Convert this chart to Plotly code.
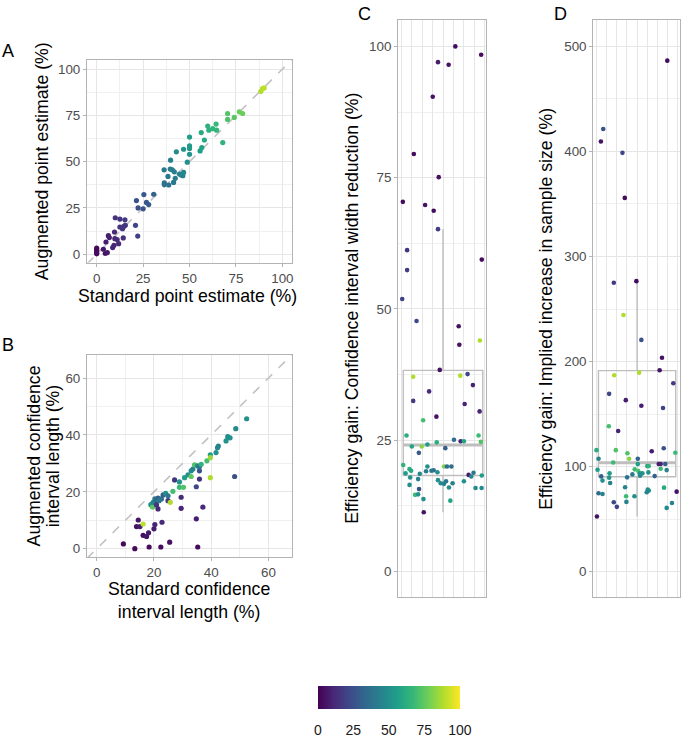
import plotly.graph_objects as go

W, H = 685, 739

# ---------------- data ----------------
# Panel A: standard vs augmented point estimate (%)
a_std = [0, 0, 0, 0, 0, 3.6, 5, 4.6, 5.7, 6.3, 6.8, 8.6, 9.3, 9.8, 9.6, 10, 12.5, 11, 11.8, 12.5,
         13.9, 14.3, 15.2, 15.4, 14.6, 20.9, 21.4, 22.3, 22.1, 25.4, 25, 26.8, 28, 30.7, 36.3, 36.4,
         36.4, 38.4, 38.8, 39.8, 39.6, 40.7, 41.8, 41.4, 42.3, 42.9, 44.6, 45.5, 46.4, 46.8, 46.8,
         48.8, 50, 50, 50, 50, 56.3, 55.7, 56.6, 58, 59.8, 60.4, 62.5, 64.3, 64.6, 67.9, 70.5, 70.5,
         74.1, 76.8, 78.6, 88.4, 89.3, 90.2]
a_aug = [0.2, 0.8, 1.6, 2.4, 3.3, 2.7, 6.6, 0.4, 0.9, 10, 9, 3.6, 4.8, 8.4, 12, 19.7, 19, 7.9, 5.7, 14.7,
         13.8, 8.8, 18.6, 15.6, 15, 15.6, 29, 25, 9.8, 32.2, 24.5, 28, 26.8, 32.4, 45.6, 38.5,
         37.6, 42, 37.4, 50.8, 46, 45.6, 44.5, 38.8, 41, 55.3, 43.3, 42.8, 42.4, 44.2, 56.7,
         49.7, 63.3, 58.5, 57.1, 54, 65.7, 55.8, 57.6, 61.7, 69.2, 67, 67.8, 70.3, 67, 60.3, 76, 72.8,
         73.9, 76.9, 76, 88, 89.4, 89.8]
a_col = [3, 2, 4, 3, 2, 6, 8, 5, 6, 8, 9, 10, 10, 11, 12, 14, 15, 12, 12, 15,
         15, 14, 17, 17, 16, 22, 25, 24, 20, 28, 26, 28, 28, 32, 40, 37,
         37, 40, 38, 44, 42, 43, 43, 40, 42, 48, 44, 45, 45, 46, 52,
         50, 56, 54, 53, 52, 61, 56, 57, 60, 64, 64, 65, 67, 66, 64, 73, 72,
         74, 77, 77, 88, 89, 90]

# Panel B: standard vs augmented confidence interval length (%)
b_std = [9.3, 13.3, 13.9, 14.5, 15.1, 16.2, 16.2, 17.4, 18.1, 18.3, 20, 20.3, 22.8, 22.4, 25.5, 35.3,
         29.5, 29.5, 27.2, 34.8, 37.1, 34.8, 35.9, 35.9, 39.7, 48.2,
         18.9, 19.5, 19.7, 20.3, 20.9, 21.4, 21.8, 20.9, 21.4, 22.6, 23.2, 24.1, 24.9, 24.9, 25.7,
         26.6, 28.9, 28.9, 30.3, 30.7, 31.9, 33, 33, 33.6, 34.2, 35.3, 35.9, 36.5, 38.5, 39.7, 39.7,
         41.7, 42.2, 42.5, 45.2, 45.8, 46.6, 48.6, 52.4]
b_aug = [1.7, 0, 7.8, 10.1, 7.8, 8.7, 4.7, 4.3, 5.6, 0.6, 7, 8.5, 9.3, 0.6, 2.3, 0.6,
         18.1, 14.2, 24.2, 10.5, 14.6, 21.8, 24.5, 27.4, 25, 25.4,
         15.5, 14.6, 16.3, 17.5, 16.9, 17.8, 16.9, 15.4, 14, 17.5, 18.9, 19.5, 18.6, 16.9, 16.3,
         20.2, 23.5, 21.6, 21.6, 25, 26, 25.4, 27.4, 28, 29.5, 29.1, 28.8, 29.7, 30.9, 33, 32,
         33.8, 35.5, 36.1, 37.9, 39.4, 39, 42.2, 45.7]
b_col = [3, 2, 5, 6, 8, 90, 4, 6, 7, 3, 8, 10, 12, 3, 5, 3,
         12, 10, 15, 8, 12, 22, 14, 25, 88, 25,
         50, 75, 45, 40, 35, 30, 42, 15, 12, 38, 30, 50, 40, 15, 88,
         70, 52, 68, 72, 55, 50, 75, 48, 45, 72, 45, 40, 65, 70, 55, 85,
         50, 48, 45, 52, 48, 50, 48, 50]

# Panel C: efficiency gain, CI width reduction (%) (jittered)
c_jit = [1.18, 3.65, -0.48, 0.54, -0.98, -2.79, -0.41, -3.84, -1.71, -0.89, -0.48, -3.43, -3.43, 3.71, -3.9,
         -2.53, 1.5, 1.56, 3.53, -0.31, -2.85, 1.65, 2.35, 2.86, -1.33, -2.85, 2.07, 3.5, -0.63, -1.9,
         -3.49, 3.4, 1.05, 1.69, 2.0, 3.62, -2.98, -2.03, -1.49, -0.6, 0.22, -2.31, -3.8, -1.49, 0.1,
         0.38, 0.8, -3.58, -3.2, -3.05, -2.22, -1.62, -1.1, -0.89, -0.53, -3.14, -2.38, -0.48, -0.22,
         0.1, 0.29, 0.57, 0.92, 2.0, 2.45, 2.7, 2.92, 3.71, -3.2, -2.29, -2.67, -2.38, -1.87, 0.7,
         3.11, 3.69, -1.84]
c_gain = [100.0, 98.4, 97.0, 96.5, 90.4, 79.5, 75.1, 70.4, 69.8, 68.7, 65.2, 61.2, 57.4, 59.4, 51.9,
          47.7, 46.7, 43.2, 44.0, 38.4, 37.1, 37.3, 37.6, 35.5, 34.3, 32.5, 31.9, 30.5, 29.5, 28.8,
          25.9, 25.9, 25.1, 24.8, 24.8, 24.7, 23.8, 23.8, 24.2, 24.6, 23.5, 22.6, 20.3, 20.0, 20.0,
          20.0, 20.0, 18.7, 19.5, 19.2, 18.6, 19.1, 19.2, 19.3, 18.9, 17.9, 17.6, 17.4, 16.8,
          16.7, 17.2, 16.0, 16.8, 17.2, 18.4, 18.1, 18.8, 18.3, 16.5, 15.7, 14.6, 14.7, 13.8, 13.5,
          15.9, 15.9, 11.3]
c_col = [3, 3, 8, 5, 5, 3, 5, 3, 5, 3, 18, 15, 18, 3, 20,
         22, 5, 5, 88, 5, 88, 88, 22, 10, 12, 18, 10, 10, 5, 70,
         62, 68, 35, 10, 58, 72, 58, 82, 55, 62, 30, 28, 65, 50, 80,
         35, 35, 55, 62, 60, 48, 42, 40, 38, 50, 50, 45, 50, 48,
         45, 40, 48, 45, 50, 8, 45, 40, 55, 50, 25, 68, 52, 50, 58,
         48, 48, 5]
c_box = dict(q1=18.3, median=24.1, q3=38.3, lowerfence=11.3, upperfence=65.2)

# Panel D: efficiency gain, implied increase in sample size (%) (jittered)
d_jit = [2.97, -3.33, -3.56, -1.44, -1.21, -2.29, -0.07, -1.34, 0.42, 2.45, 2.22, 0.2, -2.25, 3.56, -2.75,
         -1.11, 0.42, 2.55, -2.78, -1.86, -3.99, -2.09, 1.44, 3.76, 2.62, -0.95, -0.78, -3.79, 0.07,
         -2.35, 0.07, 2.13, 2.32, 2.77, 1.01, 1.15, 2.32, -3.89, 2.91, -0.23, 0.1, 0.26, 0.52, -0.46,
         1.11, -2.71, -3.53, -3.4, -2.75, -0.98, 1.73, 0.29, -2.65, -1.18, 2.65, 1.05, 1.15, 0.95,
         -3.79, -3.4, 3.89, -1.08, -0.26, -2.29, -1.05, -1.99, 3.43, 2.91, -3.95]
d_gain = [486.5, 421.4, 409.5, 398.7, 355.8, 275.0, 276.5, 244.3, 220.6, 203.6, 191.7, 189.4, 186.9, 179.3, 169.2,
          163.2, 157.9, 155.7, 138.3, 133.9, 115.6, 115.6, 114.6, 113.1, 117.4, 112.7, 107.4, 107.4, 107.4,
          103.9, 102.3, 102.4, 102.4, 102.4, 100.4, 100.4, 97.9, 97.0, 96.6, 97.3, 96.0, 93.5, 93.5, 92.5,
          94.4, 93.5, 90.6, 86.6, 89.4, 89.7, 90.9, 91.3, 84.3, 80.2, 79.9, 78.0, 77.1, 75.5,
          74.5, 73.9, 76.1, 71.7, 71.7, 66.0, 66.3, 61.6, 65.3, 60.6, 52.4]
d_col = [3, 25, 5, 22, 3, 18, 3, 88, 25, 5, 5, 88, 88, 18, 22,
         8, 8, 20, 70, 10, 62, 72, 8, 68, 25, 72, 82, 45, 32,
         68, 55, 8, 10, 28, 55, 65, 68, 55, 45, 68, 72, 52, 50, 42,
         50, 55, 30, 50, 52, 38, 30, 48, 45, 45, 60, 48, 50, 45,
         35, 45, 5, 68, 50, 22, 45, 20, 45, 48, 5]
d_box = dict(q1=90.3, median=103.6, q3=191.3, lowerfence=52.5, upperfence=276.5)

cbar_ticks = [0, 25, 50, 75, 100]

# ---------------- layout helpers ----------------
def fx(px):
    return px / W

def fy(py):
    return 1 - py / H

FONT = "Liberation Sans, Arial, Helvetica, sans-serif"
GRID = "#E6E6E6"
MINOR = "#F0F0F0"
BORDER = "#B3B3B3"
TICKC = "#4D4D4D"
BOXC = "#BEBEBE"

fig = go.Figure()

common_marker = dict(colorscale="Viridis", cmin=0, cmax=100)

# A
rngA = [-5.2, 105.1]
fig.add_trace(go.Scatter(x=rngA, y=rngA, mode="lines", line=dict(color="#C2C2C2", width=1.6, dash="dash"),
                         xaxis="x", yaxis="y", hoverinfo="skip", showlegend=False))
fig.add_trace(go.Scatter(x=a_std, y=a_aug, mode="markers", xaxis="x", yaxis="y", showlegend=False,
                         marker=dict(color=a_col, size=5.2, **common_marker, showscale=True,
                                     colorbar=dict(orientation="h", x=fx(390), xanchor="center",
                                                   y=fy(690), yanchor="top", lenmode="pixels", len=142,
                                                   thickness=23, xpad=0, ypad=0, outlinewidth=0,
                                                   tickvals=cbar_ticks, ticks="outside", ticklen=10,
                                                   tickcolor="white", tickwidth=1,
                                                   tickfont=dict(size=14, color="#1A1A1A", family=FONT)))))
# B
rngB = [-3.4, 68.2]
fig.add_trace(go.Scatter(x=rngB, y=rngB, mode="lines", line=dict(color="#C2C2C2", width=1.6, dash="dash"),
                         xaxis="x2", yaxis="y2", hoverinfo="skip", showlegend=False))
fig.add_trace(go.Scatter(x=b_std, y=b_aug, mode="markers", xaxis="x2", yaxis="y2", showlegend=False,
                         marker=dict(color=b_col, size=5.2, **common_marker)))

# C and D boxes + points
BOX_HALF = 3.8
for box, jit, gain, col, xa, ya in [(c_box, c_jit, c_gain, c_col, "x3", "y3"),
                                     (d_box, d_jit, d_gain, d_col, "x4", "y4")]:
    fig.add_trace(go.Box(x=[0], q1=[box["q1"]], median=[box["median"]], q3=[box["q3"]],
                         lowerfence=[box["lowerfence"]], upperfence=[box["upperfence"]],
                         width=2 * BOX_HALF, whiskerwidth=0, boxpoints=False,
                         line=dict(color=BOXC, width=1.4), fillcolor="rgba(0,0,0,0)",
                         xaxis=xa, yaxis=ya, showlegend=False, hoverinfo="skip"))
    fig.add_trace(go.Scatter(x=[-BOX_HALF, BOX_HALF], y=[box["median"]] * 2, mode="lines",
                             line=dict(color=BOXC, width=3.2), xaxis=xa, yaxis=ya,
                             showlegend=False, hoverinfo="skip"))
    fig.add_trace(go.Scatter(x=jit, y=gain, mode="markers", xaxis=xa, yaxis=ya, showlegend=False,
                             marker=dict(color=col, size=4.6, **common_marker)))

def axis_style(**kw):
    d = dict(showline=True, mirror=True, linecolor=BORDER, linewidth=1.1,
             showgrid=True, gridcolor=GRID, gridwidth=0.8, zeroline=False,
             ticks="outside", ticklen=3, tickcolor=BORDER, tickwidth=1,
             tickfont=dict(size=13.4, color=TICKC, family=FONT), fixedrange=True)
    d.update(kw)
    return d

minorA = dict(dtick=12.5, showgrid=True, gridcolor=MINOR, gridwidth=0.6)
minorB = dict(dtick=10, showgrid=True, gridcolor=MINOR, gridwidth=0.6)

fig.update_layout(
    width=W, height=H, margin=dict(l=0, r=0, t=0, b=0),
    paper_bgcolor="white", plot_bgcolor="white",
    font=dict(family=FONT),
    xaxis=axis_style(domain=[fx(87.3), fx(292.7)], range=rngA, tickvals=[0, 25, 50, 75, 100],
                     minor=minorA, anchor="y"),
    yaxis=axis_style(domain=[fy(264), fy(60.7)], range=[-4.5, 104.7], tickvals=[0, 25, 50, 75, 100],
                     minor=minorA, anchor="x"),
    xaxis2=axis_style(domain=[fx(87.3), fx(292.7)], range=rngB, tickvals=[0, 20, 40, 60],
                      minor=minorB, anchor="y2"),
    yaxis2=axis_style(domain=[fy(560), fy(356.7)], range=[-2.9, 68.2], tickvals=[0, 20, 40, 60],
                      minor=minorB, anchor="x2"),
    xaxis3=axis_style(domain=[fx(399.3), fx(487.3)], range=[-4.29, 4.1], dtick=1, tick0=0,
                      showticklabels=False, ticks="", anchor="y3"),
    yaxis3=axis_style(domain=[fy(600), fy(20)], range=[-4.8, 105.05], tickvals=[0, 25, 50, 75, 100],
                      minor=minorA, anchor="x3"),
    xaxis4=axis_style(domain=[fx(595), fx(682.3)], range=[-4.31, 4.25], dtick=1, tick0=0,
                      showticklabels=False, ticks="", anchor="y4"),
    yaxis4=axis_style(domain=[fy(600), fy(20)], range=[-24, 525.3], tickvals=[0, 100, 200, 300, 400, 500],
                      minor=dict(dtick=50, showgrid=True, gridcolor=MINOR, gridwidth=0.6), anchor="x4"),
)

TF = dict(size=17.7, color="#000000", family=FONT)
LF = dict(size=18, color="#000000", family=FONT)
ann = [
    dict(text="Standard point estimate (%)", x=fx(188), y=fy(298), textangle=0),
    dict(text="Augmented point estimate (%)", x=fx(41.7), y=fy(162.5), textangle=-90),
    dict(text="Standard confidence<br>interval length (%)", x=fx(189.5), y=fy(603.5), textangle=0),
    dict(text="Augmented confidence", x=fx(34), y=fy(458), textangle=-90),
    dict(text="interval length (%)", x=fx(53), y=fy(458), textangle=-90),
    dict(text="Efficiency gain: Confidence interval width reduction (%)", x=fx(353.5), y=fy(310), textangle=-90),
    dict(text="Efficiency gain: Implied increase in sample size (%)", x=fx(548), y=fy(310), textangle=-90),
]
for a in ann:
    fig.add_annotation(xref="paper", yref="paper", showarrow=False, font=TF,
                       xanchor="center", yanchor="middle", **a)
for lab, px, py in [("A", 8, 51), ("B", 8, 347), ("C", 366, 14), ("D", 562, 14)]:
    fig.add_annotation(xref="paper", yref="paper", showarrow=False, font=LF, text=lab,
                       x=fx(px), y=fy(py), xanchor="center", yanchor="middle")

fig.write_html("out.html", config={"displayModeBar": False},
               post_script="document.body.style.margin='0';document.body.style.overflow='hidden';")
